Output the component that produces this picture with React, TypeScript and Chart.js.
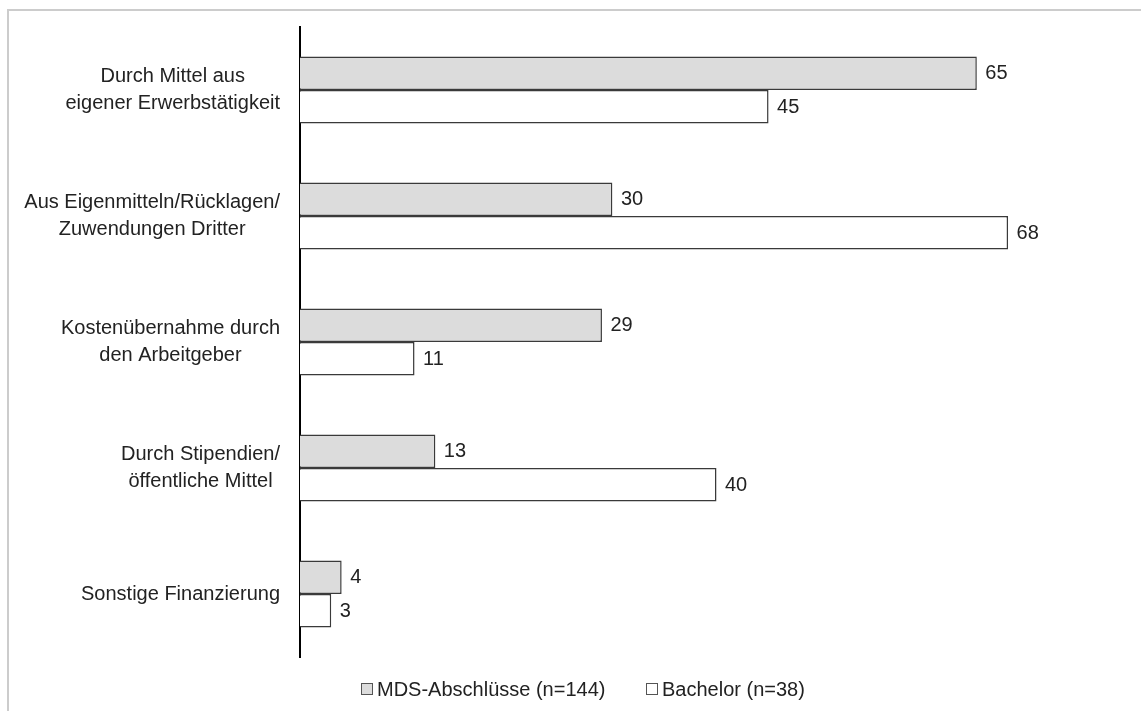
import React, { useEffect, useRef } from "react";
import { Chart, registerables } from "chart.js";

Chart.register(...registerables);

const categories: string[][] = [
  ["Durch Mittel aus", "eigener Erwerbstätigkeit"],
  ["Aus Eigenmitteln/Rücklagen/", "Zuwendungen Dritter"],
  ["Kostenübernahme durch", "den Arbeitgeber"],
  ["Durch Stipendien/", "öffentliche Mittel"],
  ["Sonstige Finanzierung"],
];
const mdsValues = [65, 30, 29, 13, 4];
const bachelorValues = [45, 68, 11, 40, 3];
const seriesNames = ["MDS-Abschlüsse (n=144)", "Bachelor (n=38)"];

const FONT = '"Liberation Sans", Arial, sans-serif';
const TEXT = "#222222";

const labelPlugin = {
  id: "customLabels",
  afterDraw(chart: any) {
    const ctx = chart.ctx;
    const y = chart.scales.y;
    ctx.save();
    ctx.font = `20px ${FONT}`;
    ctx.fillStyle = TEXT;
    ctx.textBaseline = "middle";
    const labels = chart.data.labels as string[][];
    labels.forEach((lines, i) => {
      const cy = y.getPixelForValue(i);
      const w = Math.max(...lines.map((l) => ctx.measureText(l).width));
      const cx = chart.chartArea.left - 20 - w / 2;
      const lh = 27;
      ctx.textAlign = "center";
      lines.forEach((l, j) => {
        ctx.fillText(l, cx, cy + (j - (lines.length - 1) / 2) * lh);
      });
    });
    ctx.textAlign = "left";
    chart.data.datasets.forEach((ds: any, di: number) => {
      const meta = chart.getDatasetMeta(di);
      meta.data.forEach((bar: any, i: number) => {
        ctx.fillText(String(ds.data[i]), bar.x + 8.5, bar.y + 0.5);
      });
    });
    ctx.restore();
  },
};

export default function App() {
  const ref = useRef<HTMLCanvasElement | null>(null);
  useEffect(() => {
    if (!ref.current) return;
    const chart = new Chart(ref.current, {
      type: "bar",
      data: {
        labels: categories,
        datasets: [
          {
            label: seriesNames[0],
            data: mdsValues,
            backgroundColor: "#dcdcdc",
            borderColor: "#3a3a3a",
            borderWidth: 1.5,
          },
          {
            label: seriesNames[1],
            data: bachelorValues,
            backgroundColor: "#ffffff",
            borderColor: "#3a3a3a",
            borderWidth: 1.5,
          },
        ],
      },
      options: {
        indexAxis: "y",
        responsive: false,
        animation: false,
        devicePixelRatio: 1,
        datasets: { bar: { categoryPercentage: 0.532, barPercentage: 1 } },
        layout: { padding: { top: 27, bottom: 54, left: 0, right: 8 } },
        plugins: { legend: { display: false }, tooltip: { enabled: false } },
        scales: {
          x: { display: false, min: 0, max: 80 },
          y: {
            display: true,
            grid: { display: false },
            border: { display: true, color: "#000000", width: 2 },
            ticks: { display: false },
            afterFit: (scale: any) => {
              scale.width = 300;
            },
          },
        },
      } as any,
      plugins: [labelPlugin],
    });
    return () => chart.destroy();
  }, []);

  const legendText: React.CSSProperties = {
    position: "fixed",
    top: 677,
    fontFamily: FONT,
    fontSize: 20,
    lineHeight: "24px",
    color: TEXT,
    whiteSpace: "nowrap",
  };
  const box = (left: number, bg: string): React.CSSProperties => ({
    position: "fixed",
    left,
    top: 683,
    width: 10,
    height: 10,
    border: "1px solid #555",
    background: bg,
  });

  return (
    <div>
      <div
        style={{
          position: "fixed",
          left: 7,
          top: 9,
          width: 2000,
          height: 2000,
          borderTop: "2px solid #cccccc",
          borderLeft: "2px solid #cccccc",
          pointerEvents: "none",
        }}
      />
      <canvas
        ref={ref}
        width={1141}
        height={711}
        style={{ position: "fixed", left: 0, top: 0, width: 1141, height: 711 }}
      />
      <div style={box(361, "#dcdcdc")} />
      <span style={{ ...legendText, left: 377 }}>{seriesNames[0]}</span>
      <div style={box(646, "#ffffff")} />
      <span style={{ ...legendText, left: 662 }}>{seriesNames[1]}</span>
    </div>
  );
}
